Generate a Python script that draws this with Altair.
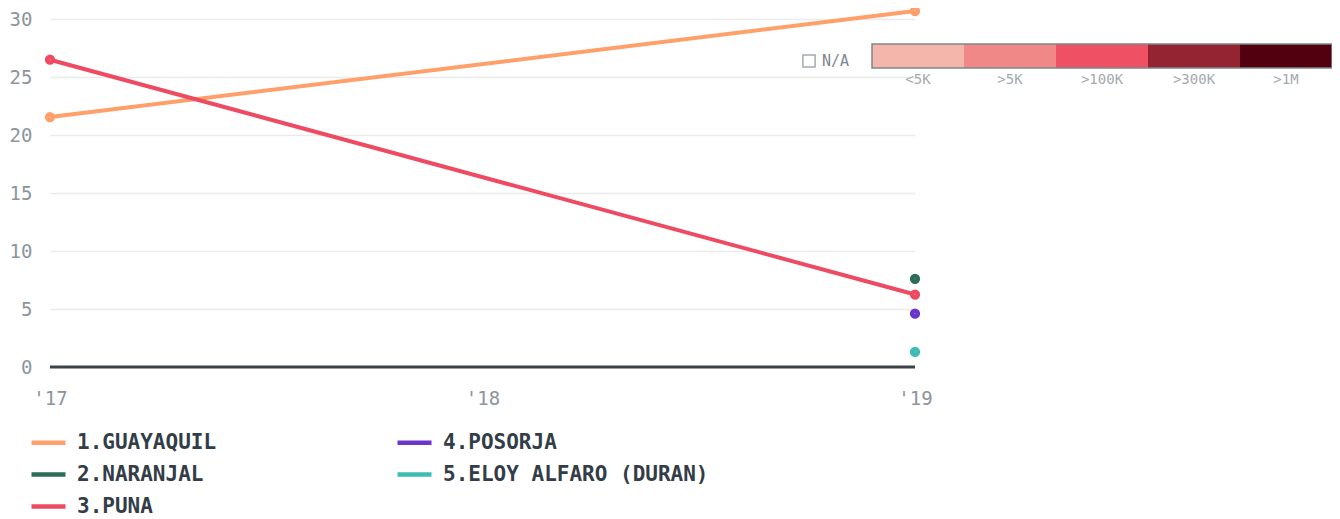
import altair as alt
import pandas as pd

# ---- data ----
series_names = ["1.GUAYAQUIL", "2.NARANJAL", "3.PUNA", "4.POSORJA", "5.ELOY ALFARO (DURAN)"]
series_colors = ["#ffa06a", "#2a6e55", "#ee4b63", "#6a35c8", "#3dbbb5"]

guayaquil_years = [2017, 2019]
guayaquil_vals = [21.55, 30.7]
puna_years = [2017, 2019]
puna_vals = [26.5, 6.25]
naranjal_years = [2019]
naranjal_vals = [7.6]
posorja_years = [2019]
posorja_vals = [4.6]
eloy_years = [2019]
eloy_vals = [1.3]

year_ticks = [2017, 2018, 2019]
y_ticks = [0, 5, 10, 15, 20, 25, 30]

map_cats = ["<5K", ">5K", ">100K", ">300K", ">1M"]
map_colors = ["#f4b5ab", "#f08888", "#ef5064", "#952432", "#520010"]
na_label = ["N/A"]

# ---- tables ----
rows = []
for name, ys, vs in [
    ("1.GUAYAQUIL", guayaquil_years, guayaquil_vals),
    ("2.NARANJAL", naranjal_years, naranjal_vals),
    ("3.PUNA", puna_years, puna_vals),
    ("4.POSORJA", posorja_years, posorja_vals),
    ("5.ELOY ALFARO (DURAN)", eloy_years, eloy_vals),
]:
    for y, v in zip(ys, vs):
        rows.append({"series": name, "year": y, "value": v})
df = pd.DataFrame(rows)

FONT = "DejaVu Sans Mono"
GRAY = "#8c959a"

x_enc = alt.X(
    "year:Q",
    scale=alt.Scale(domain=[2017, 2019], nice=False),
    axis=alt.Axis(
        values=year_ticks,
        labelExpr="\"'\" + substring(toString(datum.value), 2)",
        title=None, grid=False, ticks=False, domain=False, labelFlush=False,
        labelPadding=22, labelFontSize=19, labelColor=GRAY, labelFont=FONT,
    ),
)
y_enc = alt.Y(
    "value:Q",
    scale=alt.Scale(domain=[0, 30.7], nice=False, zero=True),
    axis=alt.Axis(
        values=y_ticks, title=None, ticks=False, domain=False,
        labelPadding=18, labelFontSize=19, labelColor=GRAY, labelFont=FONT,
        gridColor="#ebebeb", gridWidth=1.5,
    ),
)
color_scale = alt.Scale(domain=series_names, range=series_colors)
color_enc = alt.Color(
    "series:N",
    scale=color_scale,
    legend=alt.Legend(
        title=None, orient="none", legendX=-21, legendY=412, columns=2,
        direction="vertical",
        symbolType="stroke", symbolSize=1156, symbolStrokeWidth=4.5,
        labelFont=FONT, labelFontSize=21, labelFontWeight="bold",
        labelColor="#333d47", labelOffset=9, rowPadding=2, columnPadding=171,
        labelLimit=400,
    ),
)

base = alt.Chart(df)
lines = base.mark_line(strokeWidth=4).encode(x=x_enc, y=y_enc, color=color_enc, detail="series:N")
points = base.mark_point(filled=True, fill="white", size=31, strokeWidth=4.7, opacity=1, fillOpacity=1).encode(
    x=x_enc, y=y_enc,
    stroke=alt.Stroke("series:N", scale=color_scale, legend=None),
)
zero_rule = alt.Chart(pd.DataFrame({"z": [0]})).mark_rule(color="#37424a", strokeWidth=3).encode(y=alt.Y("z:Q"))

main = alt.layer(lines, zero_rule, points)

# ---- map-style colour legend (top right) ----
leg_df = pd.DataFrame({"cat": map_cats, "col": map_colors})
band_scale = alt.Scale(domain=map_cats, range=[822, 1282], paddingInner=0, paddingOuter=0)
leg_rects = alt.Chart(leg_df).mark_rect().encode(
    x=alt.X("cat:N", sort=map_cats, axis=None, scale=band_scale),
    y=alt.value(33), y2=alt.value(57),
    color=alt.Color("cat:N", scale=alt.Scale(domain=map_cats, range=map_colors), legend=None),
)
leg_border = alt.Chart(pd.DataFrame({"n": [1]})).mark_rect(
    fill=None, fillOpacity=0, stroke="#7e878c", strokeWidth=1.5
).encode(x=alt.value(822), x2=alt.value(1282), y=alt.value(33), y2=alt.value(57))
leg_text = alt.Chart(leg_df).mark_text(font=FONT, fontSize=14, color="#a3aaae", baseline="middle").encode(
    x=alt.X("cat:N", sort=map_cats, axis=None, scale=band_scale, bandPosition=0.5),
    y=alt.value(69), text="cat:N",
)
na_df = pd.DataFrame({"t": na_label})
na_box = alt.Chart(na_df).mark_point(shape="square", filled=False, size=150, stroke="#7e878c", strokeWidth=1.5).encode(
    x=alt.value(759), y=alt.value(50)
)
na_text = alt.Chart(na_df).mark_text(font=FONT, fontSize=15, color="#7e878c", align="left", baseline="middle").encode(
    x=alt.value(772), y=alt.value(50), text="t:N"
)

chart = alt.layer(main, leg_rects, leg_border, leg_text, na_box, na_text).resolve_scale(
    x="independent", color="independent"
).properties(
    width=865, height=356,
    autosize=alt.AutoSizeParams(type="none"),
    padding={"left": 42, "top": 3, "right": 417, "bottom": 151},
).configure_view(stroke=None)

chart.save("out.html", embed_options={"renderer": "svg", "actions": False})
